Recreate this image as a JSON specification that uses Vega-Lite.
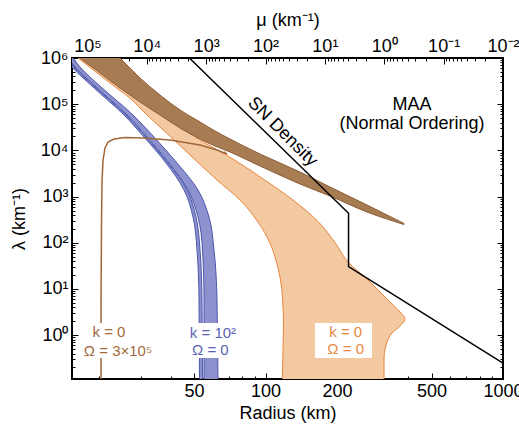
{
  "$schema": "https://vega.github.io/schema/vega-lite/v6.json",
  "width": 431,
  "height": 321,
  "autosize": {"type": "none"},
  "padding": {"left": 72, "top": 58, "right": 16, "bottom": 51},
  "config": {
    "view": {"stroke": "black", "strokeWidth": 2},
    "font": "Liberation Sans",
    "axis": {"labelFont": "Liberation Sans", "titleFont": "Liberation Sans", "labelColor": "black", "titleColor": "black", "tickColor": "black", "grid": false, "domain": false, "titleFontWeight": "normal", "labelFontSize": 18, "titleFontSize": 18, "tickWidth": 1, "labelFlush": false, "labelOverlap": false}
  },
  "datasets": {
    "sn": [{"i": 0, "r": 47.8, "lam": 1000000}, {"i": 1, "r": 223.7, "lam": 435}, {"i": 2, "r": 223.7, "lam": 30.4}, {"i": 3, "r": 1000, "lam": 0.25}],
    "blue": [
      {"lam": 1911000, "a1": 12.99, "a2": 13.25, "b1": 13.38, "b2": 14.04},
      {"lam": 819300, "a1": 14.74, "a2": 15.03, "b1": 15.18, "b2": 15.92},
      {"lam": 638700, "a1": 15.32, "a2": 15.62, "b1": 15.77, "b2": 16.55},
      {"lam": 235700, "a1": 18.78, "a2": 19.15, "b1": 19.33, "b2": 20.3},
      {"lam": 58360, "a1": 25.36, "a2": 25.86, "b1": 26.11, "b2": 27.68},
      {"lam": 19500, "a1": 30.79, "a2": 31.4, "b1": 31.7, "b2": 33.92},
      {"lam": 5337, "a1": 38.11, "a2": 38.86, "b1": 39.24, "b2": 42.41},
      {"lam": 1390, "a1": 45.39, "a2": 46.72, "b1": 47.18, "b2": 51.98},
      {"lam": 361.7, "a1": 49.52, "a2": 50.99, "b1": 51.98, "b2": 57.83},
      {"lam": 69.85, "a1": 51.48, "a2": 53.0, "b1": 54.29, "b2": 60.7},
      {"lam": 5.78, "a1": 52.48, "a2": 54.03, "b1": 55.1, "b2": 62.49},
      {"lam": 0.0651, "a1": 52.74, "a2": 54.29, "b1": 55.1, "b2": 63.1}
    ],
    "orange": [
      {"lam": 2453000, "l": 12.99, "rr": 15.18},
      {"lam": 1000000, "l": 16.23, "rr": 18.78},
      {"lam": 287700, "l": 22.14, "rr": 25.36},
      {"lam": 123300, "l": 27.41, "rr": 31.94},
      {"lam": 64490, "l": 31.09, "rr": 37.74},
      {"lam": 32100, "l": 35.95, "rr": 44.95},
      {"lam": 18550, "l": 40.39, "rr": 51.48},
      {"lam": 7951, "l": 48.1, "rr": 68.39},
      {"lam": 3765, "l": 56.18, "rr": 86.05},
      {"lam": 2287, "l": 62.49, "rr": 99.22},
      {"lam": 844, "l": 78.08, "rr": 130.6},
      {"lam": 282, "l": 92.98, "rr": 167.2},
      {"lam": 99, "l": 104.4, "rr": 196.7},
      {"lam": 38.4, "l": 111.2, "rr": 222.6},
      {"lam": 15.66, "l": 115.7, "rr": 270.1},
      {"lam": 9.515, "l": 117.3, "rr": 297.7},
      {"lam": 5.78, "l": 118.1, "rr": 328.0},
      {"lam": 3.178, "l": 118.8, "rr": 368.4},
      {"lam": 2.242, "l": 119.0, "rr": 386.7},
      {"lam": 1.582, "l": 119.0, "rr": 368.4},
      {"lam": 1.116, "l": 118.9, "rr": 341.0},
      {"lam": 0.6136, "l": 118.6, "rr": 321.8},
      {"lam": 0.2905, "l": 118.2, "rr": 315.5},
      {"lam": 0.0651, "l": 117.3, "rr": 315.5}
    ],
    "brownband": [
      {"r": 13.64, "top": 19900000, "bot": 2010000},
      {"r": 16.55, "top": 7340000, "bot": 1000000},
      {"r": 20.1, "top": 2710000, "bot": 473500},
      {"r": 24.4, "top": 1000000, "bot": 224200},
      {"r": 29.63, "top": 369200, "bot": 111600},
      {"r": 35.95, "top": 158200, "bot": 58360},
      {"r": 43.65, "top": 74910, "bot": 30530},
      {"r": 53.0, "top": 41190, "bot": 17650},
      {"r": 61.29, "top": 26290, "bot": 12450},
      {"r": 70.87, "top": 17650, "bot": 9235},
      {"r": 94.8, "top": 8358, "bot": 4597},
      {"r": 139.7, "top": 3408, "bot": 1874},
      {"r": 186.9, "top": 1614, "bot": 1030},
      {"r": 267.5, "top": 658, "bot": 464.2},
      {"r": 383.0, "top": 261.7, "bot": 248.9}
    ],
    "browncurve": [
      {"i": 0, "r": 20.3, "lam": 0.0651},
      {"i": 1, "r": 20.3, "lam": 5.78},
      {"i": 2, "r": 20.4, "lam": 311.5},
      {"i": 3, "r": 20.5, "lam": 2287},
      {"i": 4, "r": 20.7, "lam": 6197},
      {"i": 5, "r": 21.1, "lam": 11270},
      {"i": 6, "r": 21.72, "lam": 15200},
      {"i": 7, "r": 23.02, "lam": 17650},
      {"i": 8, "r": 25.6, "lam": 19020},
      {"i": 9, "r": 30.49, "lam": 18550},
      {"i": 10, "r": 39.62, "lam": 16800},
      {"i": 11, "r": 53.0, "lam": 13090},
      {"i": 12, "r": 62.49, "lam": 10200},
      {"i": 13, "r": 68.86, "lam": 8358},
      {"i": 14, "r": 66.89, "lam": 9235}
    ],
    "boxes": [
      {"r1": 16.88, "r2": 34.58, "l1": 0.321, "l2": 1.838},
      {"r1": 46.27, "r2": 78.08, "l1": 0.321, "l2": 1.838},
      {"r1": 161.6, "r2": 280.8, "l1": 0.321, "l2": 1.838}
    ],
    "sntext": [{"r": 117.9, "lam": 25020, "t": "SN Density"}],
    "maatext": [{"r": 413.9, "lam": 98500, "t": "MAA"}, {"r": 413.9, "lam": 38210, "t": "(Normal Ordering)"}],
    "browntext": [{"r": 21.93, "lam": 1.173, "t": "k = 0"}, {"r": 23.93, "lam": 0.4549, "t": "Ω = 3×10⁵"}],
    "bluetext": [{"r": 60.1, "lam": 1.14, "t": "k = 10²"}, {"r": 58.6, "lam": 0.4783, "t": "Ω = 0"}],
    "orangetext": [{"r": 217.6, "lam": 1.173, "t": "k = 0"}, {"r": 217.6, "lam": 0.4953, "t": "Ω = 0"}]
  },
  "resolve": {"axis": {"x": "independent", "y": "independent"}},
  "layer": [
    {
      "data": {"name": "orange"},
      "mark": {"type": "area", "orient": "horizontal", "clip": true, "fill": "#f3c9a1", "stroke": "#e8843c", "strokeWidth": 1, "interpolate": "monotone"},
      "encoding": {
        "y": {"field": "lam", "type": "quantitative", "scale": {"type": "log", "domain": [0.1127, 1000000], "nice": false},
          "axis": {"orient": "left", "values": [1, 10, 100, 1000, 10000, 100000, 1000000], "labelExpr": "['10⁰','10¹','10²','10³','10⁴','10⁵','10⁶'][round(log(datum.value)/LN10)]", "tickSize": -6, "labelPadding": 10, "title": "λ (km⁻¹)", "titlePadding": 12}},
        "x": {"field": "l", "type": "quantitative", "scale": {"type": "log", "domain": [15.32, 1000], "nice": false},
          "axis": {"orient": "bottom", "values": [50, 100, 200, 500, 1000], "format": "d", "tickSize": -6, "labelPadding": 9, "title": "Radius (km)", "titlePadding": 4}},
        "x2": {"field": "rr"}
      }
    },
    {
      "data": {"name": "brownband"},
      "mark": {"type": "area", "clip": true, "fill": "#a87c53", "stroke": "#8c5c34", "strokeWidth": 1, "interpolate": "monotone"},
      "encoding": {
        "x": {"field": "r", "type": "quantitative", "scale": {"type": "log", "domain": [15.32, 1000], "nice": false},
          "axis": {"orient": "bottom", "values": [20, 30, 40, 60, 70, 80, 90, 300, 400, 600, 700, 800, 900], "labels": false, "tickSize": -3, "title": null}},
        "y": {"field": "bot", "type": "quantitative", "scale": {"type": "log", "domain": [0.1127, 1000000], "nice": false},
          "axis": {"orient": "left", "values": [0.2, 0.3, 0.4, 0.5, 0.6, 0.7, 0.8, 0.9, 2, 3, 4, 5, 6, 7, 8, 9, 20, 30, 40, 50, 60, 70, 80, 90, 200, 300, 400, 500, 600, 700, 800, 900, 2000, 3000, 4000, 5000, 6000, 7000, 8000, 9000, 20000, 30000, 40000, 50000, 60000, 70000, 80000, 90000, 200000, 300000, 400000, 500000, 600000, 700000, 800000, 900000], "labels": false, "tickSize": -3, "title": null}},
        "y2": {"field": "top"}
      }
    },
    {
      "data": {"name": "blue"},
      "mark": {"type": "area", "orient": "horizontal", "clip": true, "fill": "#8d92cf", "stroke": "#4a56aa", "strokeWidth": 1, "interpolate": "monotone"},
      "encoding": {
        "y": {"field": "lam", "type": "quantitative", "scale": {"type": "log", "domain": [0.1127, 1000000], "nice": false},
          "axis": {"orient": "right", "values": [1, 10, 100, 1000, 10000, 100000, 1000000], "labels": false, "tickSize": -6, "title": null}},
        "x": {"field": "b1", "type": "quantitative", "scale": {"type": "log", "domain": [15.32, 1000], "nice": false},
          "axis": {"orient": "top", "values": [17.78, 31.62, 56.23, 100, 177.8, 316.2, 562.3, 1000], "labelExpr": "['10⁻²','10⁻¹','10⁰','10¹','10²','10³','10⁴','10⁵'][round(10 - 4*log(datum.value)/LN10) + 2]", "tickSize": -6, "labelPadding": 9, "title": "μ (km⁻¹)", "titlePadding": 8}},
        "x2": {"field": "b2"}
      }
    },
    {
      "data": {"name": "blue"},
      "mark": {"type": "area", "orient": "horizontal", "clip": true, "fill": "#8d92cf", "stroke": "#4a56aa", "strokeWidth": 1, "interpolate": "monotone"},
      "encoding": {
        "y": {"field": "lam", "type": "quantitative", "scale": {"type": "log", "domain": [0.1127, 1000000], "nice": false},
          "axis": {"orient": "right", "values": [0.2, 0.3, 0.4, 0.5, 0.6, 0.7, 0.8, 0.9, 2, 3, 4, 5, 6, 7, 8, 9, 20, 30, 40, 50, 60, 70, 80, 90, 200, 300, 400, 500, 600, 700, 800, 900, 2000, 3000, 4000, 5000, 6000, 7000, 8000, 9000, 20000, 30000, 40000, 50000, 60000, 70000, 80000, 90000, 200000, 300000, 400000, 500000, 600000, 700000, 800000, 900000], "labels": false, "tickSize": -3, "title": null}},
        "x": {"field": "a1", "type": "quantitative", "scale": {"type": "log", "domain": [15.32, 1000], "nice": false},
          "axis": {"orient": "top", "values": [26.59, 24.03, 22.36, 21.15, 20.2, 19.44, 18.8, 18.26, 47.28, 42.72, 39.76, 37.6, 35.93, 34.57, 33.43, 32.47, 84.09, 75.98, 70.71, 66.87, 63.89, 61.48, 59.46, 57.74, 149.5, 135.1, 125.7, 118.9, 113.6, 109.3, 105.7, 102.7, 265.9, 240.3, 223.6, 211.5, 202.0, 194.4, 188.0, 182.6, 472.8, 427.2, 397.6, 376.0, 359.3, 345.7, 334.3, 324.7, 840.9, 759.8, 707.1, 668.7, 638.9, 614.8, 594.6, 577.4], "labels": false, "tickSize": -3, "title": null}},
        "x2": {"field": "a2"}
      }
    },
    {
      "data": {"name": "browncurve"},
      "mark": {"type": "line", "clip": true, "stroke": "#a0683a", "strokeWidth": 1.5, "interpolate": "linear"},
      "encoding": {
        "x": {"field": "r", "type": "quantitative", "scale": {"type": "log", "domain": [15.32, 1000], "nice": false}, "axis": null},
        "y": {"field": "lam", "type": "quantitative", "scale": {"type": "log", "domain": [0.1127, 1000000], "nice": false}, "axis": null},
        "order": {"field": "i", "type": "quantitative"}
      }
    },
    {
      "data": {"name": "sn"},
      "mark": {"type": "line", "clip": true, "stroke": "black", "strokeWidth": 1.5},
      "encoding": {
        "x": {"field": "r", "type": "quantitative", "scale": {"type": "log", "domain": [15.32, 1000], "nice": false}, "axis": null},
        "y": {"field": "lam", "type": "quantitative", "scale": {"type": "log", "domain": [0.1127, 1000000], "nice": false}, "axis": null},
        "order": {"field": "i", "type": "quantitative"}
      }
    },
    {
      "data": {"name": "boxes"},
      "mark": {"type": "rect", "fill": "white", "stroke": null},
      "encoding": {
        "x": {"field": "r1", "type": "quantitative", "scale": {"type": "log", "domain": [15.32, 1000], "nice": false}, "axis": null},
        "x2": {"field": "r2"},
        "y": {"field": "l1", "type": "quantitative", "scale": {"type": "log", "domain": [0.1127, 1000000], "nice": false}, "axis": null},
        "y2": {"field": "l2"}
      }
    },
    {
      "data": {"name": "sntext"},
      "mark": {"type": "text", "fontSize": 18, "angle": 45, "color": "black", "align": "center", "baseline": "middle"},
      "encoding": {
        "x": {"field": "r", "type": "quantitative", "scale": {"type": "log", "domain": [15.32, 1000], "nice": false}, "axis": null},
        "y": {"field": "lam", "type": "quantitative", "scale": {"type": "log", "domain": [0.1127, 1000000], "nice": false}, "axis": null},
        "text": {"field": "t"}
      }
    },
    {
      "data": {"name": "maatext"},
      "mark": {"type": "text", "fontSize": 18, "color": "black", "align": "center", "baseline": "middle"},
      "encoding": {
        "x": {"field": "r", "type": "quantitative", "scale": {"type": "log", "domain": [15.32, 1000], "nice": false}, "axis": null},
        "y": {"field": "lam", "type": "quantitative", "scale": {"type": "log", "domain": [0.1127, 1000000], "nice": false}, "axis": null},
        "text": {"field": "t"}
      }
    },
    {
      "data": {"name": "browntext"},
      "mark": {"type": "text", "fontSize": 15, "color": "#a36a3c", "align": "center", "baseline": "middle"},
      "encoding": {
        "x": {"field": "r", "type": "quantitative", "scale": {"type": "log", "domain": [15.32, 1000], "nice": false}, "axis": null},
        "y": {"field": "lam", "type": "quantitative", "scale": {"type": "log", "domain": [0.1127, 1000000], "nice": false}, "axis": null},
        "text": {"field": "t"}
      }
    },
    {
      "data": {"name": "bluetext"},
      "mark": {"type": "text", "fontSize": 15, "color": "#5a62b3", "align": "center", "baseline": "middle"},
      "encoding": {
        "x": {"field": "r", "type": "quantitative", "scale": {"type": "log", "domain": [15.32, 1000], "nice": false}, "axis": null},
        "y": {"field": "lam", "type": "quantitative", "scale": {"type": "log", "domain": [0.1127, 1000000], "nice": false}, "axis": null},
        "text": {"field": "t"}
      }
    },
    {
      "data": {"name": "orangetext"},
      "mark": {"type": "text", "fontSize": 15, "color": "#e8883e", "align": "center", "baseline": "middle"},
      "encoding": {
        "x": {"field": "r", "type": "quantitative", "scale": {"type": "log", "domain": [15.32, 1000], "nice": false}, "axis": null},
        "y": {"field": "lam", "type": "quantitative", "scale": {"type": "log", "domain": [0.1127, 1000000], "nice": false}, "axis": null},
        "text": {"field": "t"}
      }
    }
  ]
}
